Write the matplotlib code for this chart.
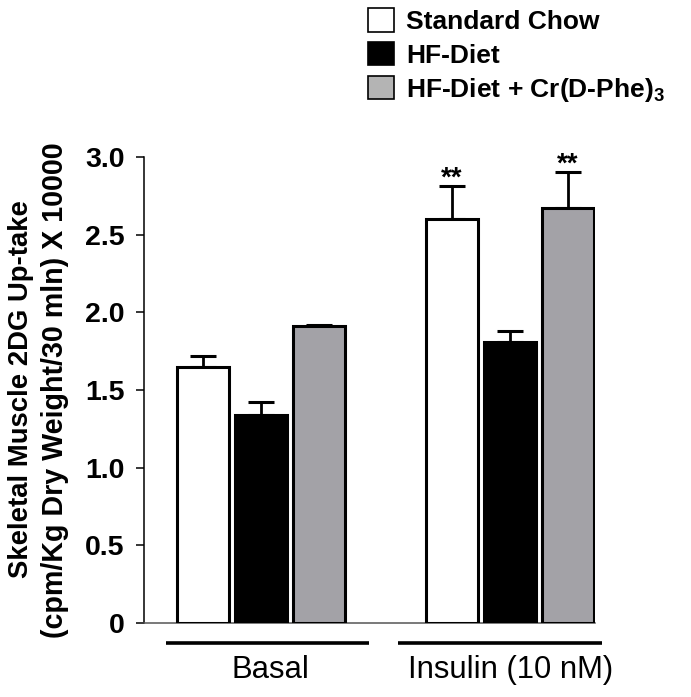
import matplotlib
matplotlib.use("Agg")
import matplotlib.pyplot as plt
from matplotlib.patches import Patch

plt.rcParams['font.family'] = 'Liberation Sans'
plt.rcParams['mathtext.fontset'] = 'custom'
plt.rcParams['mathtext.bf'] = 'Liberation Sans:bold'
plt.rcParams['mathtext.rm'] = 'Liberation Sans:bold'
plt.rcParams['mathtext.default'] = 'bf'

groups = ['Basal', 'Insulin (10 nM)']
series = ['Standard Chow', 'HF-Diet', 'HF-Diet + Cr(D-Phe)$_3$']
chow = [1.65, 2.60]
chow_err = [0.07, 0.21]
hf = [1.34, 1.81]
hf_err = [0.08, 0.07]
hf_cr = [1.91, 2.67]
hf_cr_err = [0.01, 0.23]
stars = [['', '**'], ['', ''], ['', '**']]
yticks = [0, 0.5, 1.0, 1.5, 2.0, 2.5, 3.0]
yticklabels = ['0', '0.5', '1.0', '1.5', '2.0', '2.5', '3.0']

fills = ['white', 'black', '#a3a2a7']
legend_fills = ['white', 'black', '#b4b4b4']

fig = plt.figure(figsize=(6.91, 6.97), dpi=100)
ax = fig.add_axes([0.2084, 0.1062, 0.6527, 0.6686])

centers = [0, 4.293]
offsets = [-1, 0, 1]
width = 0.897

for i, (vals, errs, fc) in enumerate(zip([chow, hf, hf_cr], [chow_err, hf_err, hf_cr_err], fills)):
    xs = [c + offsets[i] for c in centers]
    ax.bar(xs, vals, width=width, color=fc, edgecolor='black', linewidth=2.2, zorder=3)
    ax.errorbar(xs, vals, yerr=[[0] * len(vals), errs], fmt='none', ecolor='black',
                elinewidth=2.0, capsize=9.5, capthick=2.2, zorder=2)
    for x, v, e, s in zip(xs, vals, errs, stars[i]):
        if s:
            ax.text(x, v + e + 0.05, s, ha='center', va='center', fontsize=20,
                    fontweight='bold')

ax.set_xlim(-2.017, 5.759)
ax.set_ylim(0, 3.0)
ax.set_yticks(yticks)
ax.set_yticklabels(yticklabels, fontsize=20.5, fontweight='bold')
ax.tick_params(axis='y', length=6, width=1.1, pad=8)
ax.set_xticks([])
ax.spines['top'].set_visible(False)
ax.spines['right'].set_visible(False)
ax.spines['left'].set_linewidth(1.1)
ax.spines['bottom'].set_linewidth(1.1)
ax.spines['bottom'].set_color('#555555')

# group bars and labels under the axis
line_spans = [(-1.638, 1.862), (2.362, 5.879)]
label_x = [0.155, 4.31]
for (x0, x1), lx, g in zip(line_spans, label_x, groups):
    ax.plot([x0, x1], [-0.129, -0.129], color='black', linewidth=2.6, clip_on=False,
            solid_capstyle='butt')
    ax.text(lx, -0.305, g, ha='center', va='center', fontsize=22.3)

fig.text(21 / 691, 1 - 389 / 697, 'Skeletal Muscle 2DG Up-take', rotation=90,
         ha='center', va='center', fontsize=19.8, fontweight='bold')
fig.text(55 / 691, 1 - 390 / 697, '(cpm/Kg Dry Weight/30 mln) X 10000', rotation=90,
         ha='center', va='center', fontsize=20.6, fontweight='bold')

handles = [Patch(facecolor=c, edgecolor='black', linewidth=1.2) for c in legend_fills]
fig.legend(handles, series, loc='upper left', bbox_to_anchor=(368 / 691, 1 - 8 / 697),
           frameon=False, handlelength=1.0, handleheight=1.0, handletextpad=0.45,
           labelspacing=0.3, borderpad=0, borderaxespad=0,
           prop={'size': 19, 'weight': 'bold', 'family': 'Liberation Sans'})

fig.savefig('out.png', dpi=100)
